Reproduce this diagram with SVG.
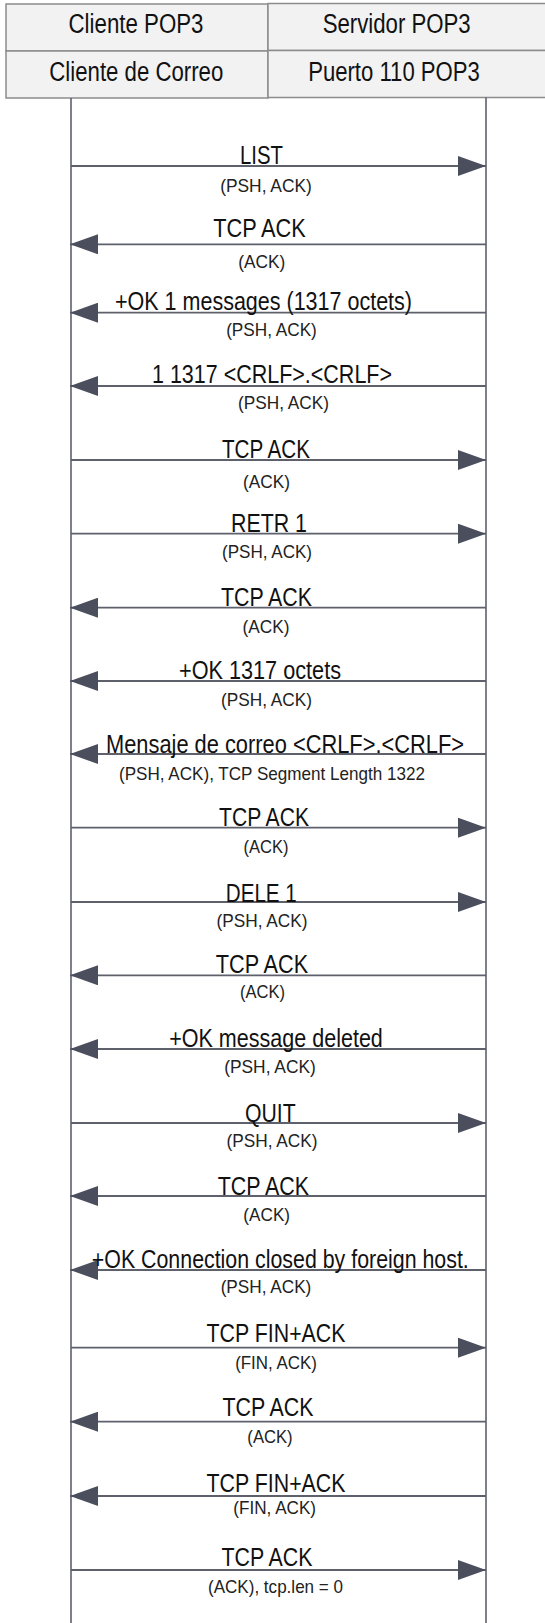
<svg xmlns="http://www.w3.org/2000/svg" width="545" height="1623" viewBox="0 0 545 1623">
  <style>
    .box { fill: #f2f2f2; stroke: #8c8c8c; stroke-width: 1.5; }
    .life { stroke: #5e606c; stroke-width: 1.6; fill: none; }
    .msg { stroke: #5e606c; stroke-width: 1.8; fill: none; marker-end: url(#head); }
    .hdr { font-family: "Liberation Sans", Arial, sans-serif; font-size: 27px; fill: #111; text-anchor: middle; }
    .lbl { font-family: "Liberation Sans", Arial, sans-serif; font-size: 25px; fill: #111; text-anchor: middle; }
    .sub { font-family: "Liberation Sans", Arial, sans-serif; font-size: 18.5px; fill: #222; text-anchor: middle; }
  </style>
  <defs>
    <marker id="head" markerUnits="userSpaceOnUse" markerWidth="28" markerHeight="20" refX="28" refY="10" orient="auto">
      <path d="M0,0 L28,10 L0,20 Z" fill="#4b4e5c"/>
    </marker>
  </defs>
  <rect width="545" height="1623" fill="#ffffff"/>

  <!-- participant headers -->
  <g id="client">
    <rect class="box" x="6" y="4" width="262" height="47"/>
    <rect class="box" x="6" y="51" width="262" height="47"/>
    <text class="hdr" x="136" y="32.5" textLength="135" lengthAdjust="spacingAndGlyphs">Cliente POP3</text>
    <text class="hdr" x="136.3" y="80.5" textLength="174" lengthAdjust="spacingAndGlyphs">Cliente de Correo</text>
  </g>
  <g id="server">
    <rect class="box" x="268" y="3.5" width="290" height="47"/>
    <rect class="box" x="268" y="50.5" width="290" height="47"/>
    <text class="hdr" x="396.7" y="32.5" textLength="148" lengthAdjust="spacingAndGlyphs">Servidor POP3</text>
    <text class="hdr" x="394" y="80.5" textLength="171.7" lengthAdjust="spacingAndGlyphs">Puerto 110 POP3</text>
  </g>

  <!-- lifelines -->
  <g id="lifelines">
    <line class="life" x1="71" y1="98" x2="71" y2="1623"/>
    <line class="life" x1="486" y1="97.5" x2="486" y2="1623"/>
  </g>

  <!-- messages -->
  <g id="connectors">
    <line class="msg" x1="71" y1="166" x2="486" y2="166"/>
    <line class="msg" x1="486" y1="244.3" x2="70" y2="244.3"/>
    <line class="msg" x1="486" y1="312.7" x2="70" y2="312.7"/>
    <line class="msg" x1="486" y1="386" x2="70" y2="386"/>
    <line class="msg" x1="71" y1="460" x2="486" y2="460"/>
    <line class="msg" x1="71" y1="533.7" x2="486" y2="533.7"/>
    <line class="msg" x1="486" y1="607.7" x2="70" y2="607.7"/>
    <line class="msg" x1="486" y1="681" x2="70" y2="681"/>
    <line class="msg" x1="486" y1="754" x2="70" y2="754"/>
    <line class="msg" x1="71" y1="827.7" x2="486" y2="827.7"/>
    <line class="msg" x1="71" y1="902" x2="486" y2="902"/>
    <line class="msg" x1="486" y1="975.3" x2="70" y2="975.3"/>
    <line class="msg" x1="486" y1="1049" x2="70" y2="1049"/>
    <line class="msg" x1="71" y1="1123" x2="486" y2="1123"/>
    <line class="msg" x1="486" y1="1196" x2="70" y2="1196"/>
    <line class="msg" x1="486" y1="1270" x2="70" y2="1270"/>
    <line class="msg" x1="71" y1="1347.7" x2="486" y2="1347.7"/>
    <line class="msg" x1="486" y1="1421.7" x2="70" y2="1421.7"/>
    <line class="msg" x1="486" y1="1496" x2="70" y2="1496"/>
    <line class="msg" x1="71" y1="1570" x2="486" y2="1570"/>
  </g>

  <!-- message labels -->
  <g id="labels">
    <text class="lbl" x="261.5" y="164" textLength="43" lengthAdjust="spacingAndGlyphs">LIST</text>
    <text class="sub" x="266" y="192" textLength="91.7" lengthAdjust="spacingAndGlyphs">(PSH, ACK)</text>

    <text class="lbl" x="259.5" y="237.3" textLength="92.7" lengthAdjust="spacingAndGlyphs">TCP ACK</text>
    <text class="sub" x="261.7" y="268.3" textLength="47" lengthAdjust="spacingAndGlyphs">(ACK)</text>

    <text class="lbl" x="263.5" y="310" textLength="297" lengthAdjust="spacingAndGlyphs">+OK 1 messages (1317 octets)</text>
    <text class="sub" x="271.5" y="336" textLength="90.7" lengthAdjust="spacingAndGlyphs">(PSH, ACK)</text>

    <text class="lbl" x="272" y="383.3" textLength="240" lengthAdjust="spacingAndGlyphs">1 1317 &lt;CRLF&gt;.&lt;CRLF&gt;</text>
    <text class="sub" x="283.5" y="409.3" textLength="91" lengthAdjust="spacingAndGlyphs">(PSH, ACK)</text>

    <text class="lbl" x="266" y="458" textLength="88" lengthAdjust="spacingAndGlyphs">TCP ACK</text>
    <text class="sub" x="266.5" y="488" textLength="47" lengthAdjust="spacingAndGlyphs">(ACK)</text>

    <text class="lbl" x="269" y="531.7" textLength="76" lengthAdjust="spacingAndGlyphs">RETR 1</text>
    <text class="sub" x="267" y="558" textLength="90" lengthAdjust="spacingAndGlyphs">(PSH, ACK)</text>

    <text class="lbl" x="266.5" y="605.7" textLength="91" lengthAdjust="spacingAndGlyphs">TCP ACK</text>
    <text class="sub" x="266" y="633" textLength="47" lengthAdjust="spacingAndGlyphs">(ACK)</text>

    <text class="lbl" x="260" y="679.3" textLength="162" lengthAdjust="spacingAndGlyphs">+OK 1317 octets</text>
    <text class="sub" x="266.5" y="706" textLength="91" lengthAdjust="spacingAndGlyphs">(PSH, ACK)</text>

    <text class="lbl" x="285" y="753.3" textLength="358" lengthAdjust="spacingAndGlyphs">Mensaje de correo &lt;CRLF&gt;.&lt;CRLF&gt;</text>
    <text class="sub" x="272" y="780" textLength="306" lengthAdjust="spacingAndGlyphs">(PSH, ACK), TCP Segment Length 1322</text>

    <text class="lbl" x="264" y="826" textLength="90" lengthAdjust="spacingAndGlyphs">TCP ACK</text>
    <text class="sub" x="266" y="853" textLength="45" lengthAdjust="spacingAndGlyphs">(ACK)</text>

    <text class="lbl" x="261.3" y="901.7" textLength="71" lengthAdjust="spacingAndGlyphs">DELE 1</text>
    <text class="sub" x="262" y="927" textLength="91" lengthAdjust="spacingAndGlyphs">(PSH, ACK)</text>

    <text class="lbl" x="262" y="973.3" textLength="92.3" lengthAdjust="spacingAndGlyphs">TCP ACK</text>
    <text class="sub" x="262.5" y="998" textLength="45" lengthAdjust="spacingAndGlyphs">(ACK)</text>

    <text class="lbl" x="276" y="1046.7" textLength="213.7" lengthAdjust="spacingAndGlyphs">+OK message deleted</text>
    <text class="sub" x="270" y="1073" textLength="91.7" lengthAdjust="spacingAndGlyphs">(PSH, ACK)</text>

    <text class="lbl" x="270.3" y="1121.7" textLength="50.7" lengthAdjust="spacingAndGlyphs">QUIT</text>
    <text class="sub" x="272" y="1147" textLength="91" lengthAdjust="spacingAndGlyphs">(PSH, ACK)</text>

    <text class="lbl" x="263.3" y="1195" textLength="91.3" lengthAdjust="spacingAndGlyphs">TCP ACK</text>
    <text class="sub" x="266.7" y="1221" textLength="46.7" lengthAdjust="spacingAndGlyphs">(ACK)</text>

    <text class="lbl" x="280.3" y="1268.3" textLength="377" lengthAdjust="spacingAndGlyphs">+OK Connection closed by foreign host.</text>
    <text class="sub" x="266" y="1293" textLength="90.7" lengthAdjust="spacingAndGlyphs">(PSH, ACK)</text>

    <text class="lbl" x="276" y="1341.7" textLength="139" lengthAdjust="spacingAndGlyphs">TCP FIN+ACK</text>
    <text class="sub" x="276" y="1369" textLength="81.7" lengthAdjust="spacingAndGlyphs">(FIN, ACK)</text>

    <text class="lbl" x="268" y="1416" textLength="91" lengthAdjust="spacingAndGlyphs">TCP ACK</text>
    <text class="sub" x="270" y="1443" textLength="45.3" lengthAdjust="spacingAndGlyphs">(ACK)</text>

    <text class="lbl" x="276" y="1491.7" textLength="139" lengthAdjust="spacingAndGlyphs">TCP FIN+ACK</text>
    <text class="sub" x="274.7" y="1514" textLength="82.7" lengthAdjust="spacingAndGlyphs">(FIN, ACK)</text>

    <text class="lbl" x="267" y="1566" textLength="91" lengthAdjust="spacingAndGlyphs">TCP ACK</text>
    <text class="sub" x="275.5" y="1593" textLength="135" lengthAdjust="spacingAndGlyphs">(ACK), tcp.len = 0</text>
  </g>
</svg>
